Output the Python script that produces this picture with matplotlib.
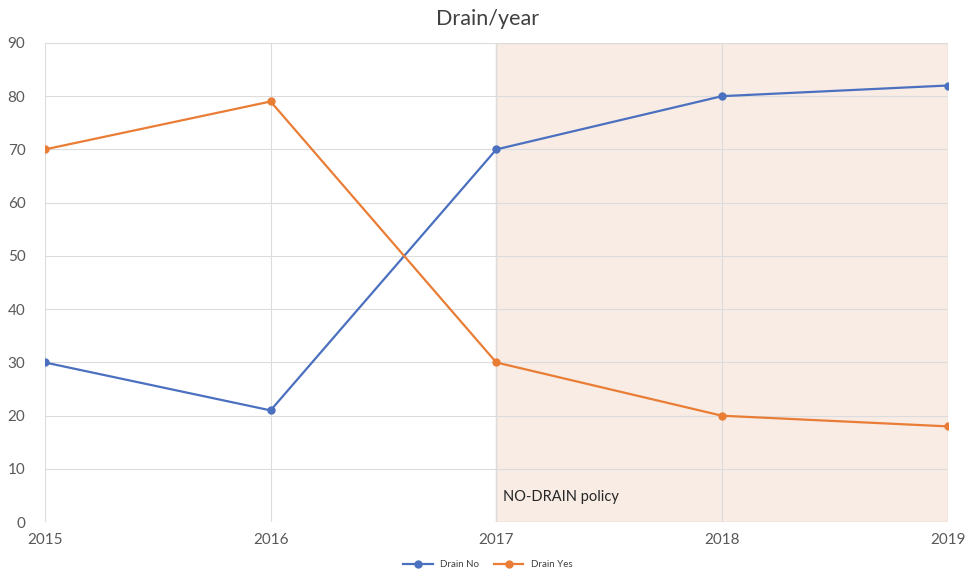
import matplotlib
matplotlib.use("Agg")
import matplotlib.pyplot as plt

plt.rcParams['font.family'] = ['Lato', 'DejaVu Sans']

# data
years = [2015, 2016, 2017, 2018, 2019]
drain_no = [30, 21, 70, 80, 82]
drain_yes = [70, 79, 30, 20, 18]
policy_start = 2017
policy_end = 2019

fig = plt.figure(figsize=(9.76, 5.72), dpi=100)
ax = fig.add_axes([0.046, 0.087, 0.925, 0.838])

# shaded policy region
ax.axvspan(policy_start, policy_end, facecolor='#F8ECE5', edgecolor='#EBD3C8', lw=1, zorder=0)

ax.plot(years, drain_no, color='#4A70BF', lw=1.6, marker='o', ms=5, label='Drain No', zorder=3)
ax.plot(years, drain_yes, color='#E97D35', lw=1.6, marker='o', ms=5, label='Drain Yes', zorder=3)

ax.text(policy_start + 0.03, 4.8, 'NO-DRAIN policy', fontsize=10.5, color='#262626', va='center')

ax.set_xlim(2015, 2019)
ax.set_ylim(0, 90)
ax.set_xticks(years)
ax.set_yticks(range(0, 91, 10))
ax.grid(True, color='#DCDCDC', lw=0.8, zorder=1)
ax.set_axisbelow(True)
for s in ax.spines.values():
    s.set_visible(False)
ax.tick_params(length=0, colors='#595959', labelsize=11)
ax.tick_params(axis='x', pad=8)
ax.tick_params(axis='y', pad=14)

fig.suptitle('Drain/year', y=0.985, fontsize=15.5, color='#404040')
fig.legend(loc='lower center', ncol=2, frameon=False, fontsize=7, bbox_to_anchor=(0.5, -0.01),
           handlelength=3, columnspacing=1.5, labelcolor='#404040')

fig.savefig('out.png', dpi=100)
